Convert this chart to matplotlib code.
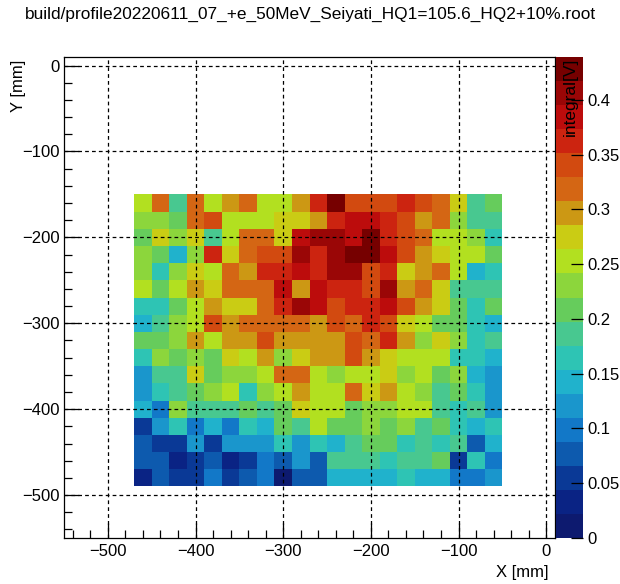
import numpy as np
import matplotlib
matplotlib.use("Agg")
import matplotlib.pyplot as plt
from matplotlib.colors import ListedColormap, BoundaryNorm
from matplotlib.ticker import MultipleLocator, FuncFormatter

plt.rcParams['font.family'] = ['Liberation Sans', 'DejaVu Sans']
plt.rcParams['axes.unicode_minus'] = True

title = "build/profile20220611_07_+e_50MeV_Seiyati_HQ1=105.6_HQ2+10%.root"
x_title = "X [mm]"
y_title = "Y [mm]"
z_title = "integral[V]"

# Scan grid bin edges in mm (21 columns x 17 rows)
x_edges = np.arange(-470, -49, 20)
y_edges = np.arange(-490, -149, 20)

# Integrated signal [V] per scan position, rows listed from Y=-160 down to Y=-480,
# columns from X=-460 to X=-60
integral_v = [
    [0.252, 0.318, 0.187, 0.318, 0.252, 0.296, 0.318, 0.252, 0.252, 0.296, 0.362, 0.439, 0.340, 0.340, 0.340, 0.362, 0.340, 0.318, 0.274, 0.187, 0.209],
    [0.230, 0.230, 0.209, 0.318, 0.340, 0.252, 0.252, 0.252, 0.274, 0.274, 0.296, 0.362, 0.384, 0.384, 0.362, 0.340, 0.296, 0.318, 0.230, 0.187, 0.187],
    [0.209, 0.274, 0.230, 0.274, 0.187, 0.252, 0.318, 0.318, 0.274, 0.384, 0.406, 0.406, 0.384, 0.428, 0.362, 0.340, 0.318, 0.252, 0.252, 0.230, 0.165],
    [0.230, 0.209, 0.143, 0.230, 0.362, 0.274, 0.318, 0.340, 0.340, 0.406, 0.362, 0.406, 0.428, 0.428, 0.384, 0.340, 0.296, 0.274, 0.252, 0.252, 0.209],
    [0.230, 0.165, 0.230, 0.274, 0.252, 0.318, 0.296, 0.362, 0.362, 0.384, 0.362, 0.406, 0.406, 0.340, 0.362, 0.274, 0.296, 0.318, 0.252, 0.143, 0.165],
    [0.252, 0.209, 0.252, 0.296, 0.274, 0.318, 0.318, 0.318, 0.384, 0.296, 0.384, 0.362, 0.362, 0.340, 0.406, 0.296, 0.318, 0.274, 0.187, 0.187, 0.187],
    [0.165, 0.165, 0.209, 0.252, 0.296, 0.274, 0.274, 0.318, 0.362, 0.406, 0.384, 0.340, 0.362, 0.362, 0.384, 0.340, 0.296, 0.274, 0.209, 0.165, 0.209],
    [0.143, 0.187, 0.230, 0.252, 0.340, 0.296, 0.318, 0.318, 0.318, 0.318, 0.296, 0.340, 0.318, 0.362, 0.340, 0.274, 0.252, 0.209, 0.209, 0.165, 0.143],
    [0.209, 0.209, 0.230, 0.296, 0.252, 0.296, 0.296, 0.340, 0.296, 0.296, 0.296, 0.296, 0.340, 0.318, 0.362, 0.296, 0.230, 0.274, 0.230, 0.165, 0.187],
    [0.165, 0.230, 0.209, 0.230, 0.209, 0.274, 0.252, 0.296, 0.230, 0.274, 0.296, 0.296, 0.340, 0.296, 0.274, 0.252, 0.252, 0.252, 0.165, 0.165, 0.143],
    [0.121, 0.187, 0.187, 0.274, 0.209, 0.230, 0.230, 0.252, 0.318, 0.318, 0.252, 0.230, 0.252, 0.252, 0.274, 0.230, 0.252, 0.209, 0.230, 0.143, 0.121],
    [0.121, 0.165, 0.187, 0.209, 0.230, 0.252, 0.165, 0.230, 0.252, 0.296, 0.252, 0.252, 0.318, 0.274, 0.296, 0.252, 0.230, 0.187, 0.209, 0.165, 0.121],
    [0.143, 0.099, 0.230, 0.187, 0.187, 0.187, 0.209, 0.187, 0.209, 0.274, 0.252, 0.252, 0.209, 0.230, 0.230, 0.252, 0.252, 0.187, 0.165, 0.187, 0.121],
    [0.055, 0.121, 0.165, 0.099, 0.143, 0.099, 0.165, 0.143, 0.209, 0.187, 0.252, 0.209, 0.209, 0.230, 0.209, 0.230, 0.187, 0.209, 0.165, 0.143, 0.165],
    [0.077, 0.055, 0.055, 0.121, 0.055, 0.121, 0.121, 0.121, 0.165, 0.121, 0.165, 0.143, 0.187, 0.209, 0.209, 0.165, 0.187, 0.165, 0.187, 0.077, 0.143],
    [0.077, 0.077, 0.033, 0.055, 0.077, 0.033, 0.055, 0.099, 0.077, 0.121, 0.077, 0.187, 0.187, 0.187, 0.165, 0.187, 0.187, 0.209, 0.055, 0.165, 0.099],
    [0.033, 0.077, 0.055, 0.055, 0.099, 0.055, 0.077, 0.099, 0.011, 0.077, 0.077, 0.143, 0.143, 0.143, 0.143, 0.165, 0.143, 0.143, 0.099, 0.099, 0.121],
]

z_ticks = [0, 0.05, 0.1, 0.15, 0.2, 0.25, 0.3, 0.35, 0.4]

# 20-step rainbow palette
palette = [
    "#0d1a6f", "#0a2384", "#0a3996", "#0d5aae", "#1278c8",
    "#1a96cc", "#20b2cc", "#2ec4b4", "#48c890", "#66cc5c",
    "#8cd63c", "#b2e020", "#cacc14", "#cc9814", "#d46614",
    "#d24a10", "#cc2410", "#bc0c0c", "#9a0606", "#760000",
]

z = np.array(integral_v)[::-1]
zmax = z.max()
levels = np.linspace(0.0, zmax, len(palette) + 1)
cmap = ListedColormap(palette)
norm = BoundaryNorm(levels, cmap.N)

W, H = 620, 584
fig = plt.figure(figsize=(W / 100, H / 100), dpi=100)

fx0, fx1, fy0, fy1 = 64, 555, 57, 538
ax = fig.add_axes([fx0 / W, 1 - fy1 / H, (fx1 - fx0) / W, (fy1 - fy0) / H])
mesh = ax.pcolormesh(x_edges, y_edges, z, cmap=cmap, norm=norm, zorder=1)

ax.set_xlim(-550, 10)
ax.set_ylim(-550, 10)

for axis in (ax.xaxis, ax.yaxis):
    axis.set_major_locator(MultipleLocator(100))
    axis.set_minor_locator(MultipleLocator(20))

ax.tick_params(which='both', direction='in', top=False, right=False,
               width=0.9, color='black', labelsize=12)
ax.tick_params(which='major', length=10.8)
ax.tick_params(which='minor', length=5.8)
ax.tick_params(axis='x', pad=4)
ax.tick_params(axis='y', pad=3)

ax.grid(True, which='major', color='black', linestyle=(0, (3, 2.5)), linewidth=0.9)
ax.set_axisbelow(False)
for sp in ax.spines.values():
    sp.set_linewidth(0.9)
    sp.set_color('black')

# Colour palette axis
cx0, cx1 = 556, 583
cax = fig.add_axes([cx0 / W, 1 - fy1 / H, (cx1 - cx0) / W, (fy1 - fy0) / H])
cb = fig.colorbar(mesh, cax=cax, ticks=z_ticks)
cb.outline.set_visible(False)
cax.yaxis.set_major_formatter(FuncFormatter(lambda v, p: f"{v:g}"))
cax.tick_params(direction='in', length=9, width=0.9, color='black',
                labelsize=12, pad=3)
cax.minorticks_off()

fig.text(310 / W, 1 - 14 / H, title, ha='center', va='center', fontsize=12.4)
fig.text(18 / W, 1 - 60 / H, y_title, rotation=90, ha='center', va='top', fontsize=12)
fig.text(548 / W, 1 - 573 / H, x_title, ha='right', va='center', fontsize=12)
fig.text(570 / W, 1 - 58 / H, z_title, rotation=90, ha='center', va='top', fontsize=12.5)

fig.savefig("out.png", dpi=100)
